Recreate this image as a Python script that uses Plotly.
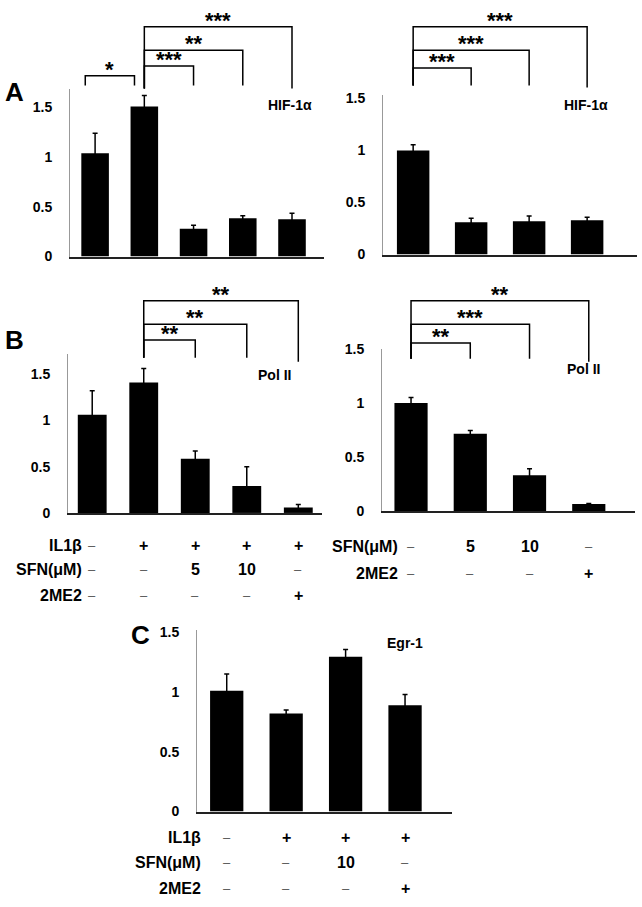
import plotly.graph_objects as go

W, H = 642, 907
FONT = "Liberation Sans, Arial, Helvetica, sans-serif"

# ---- data (relative expression) ----
HIF_IL1B = [1.04, 1.51, 0.28, 0.385, 0.375]
HIF_IL1B_ERR = [0.20, 0.11, 0.035, 0.025, 0.06]
HIF_BASAL = [1.0, 0.31, 0.32, 0.33]
HIF_BASAL_ERR = [0.055, 0.04, 0.05, 0.03]
POL_IL1B = [1.06, 1.41, 0.585, 0.29, 0.06]
POL_IL1B_ERR = [0.26, 0.15, 0.085, 0.21, 0.03]
POL_BASAL = [1.0, 0.715, 0.33, 0.064]
POL_BASAL_ERR = [0.05, 0.03, 0.06, 0.006]
EGR1 = [1.01, 0.82, 1.295, 0.89]
EGR1_ERR = [0.14, 0.03, 0.06, 0.09]

Y_TICKS = [0, 0.5, 1, 1.5]
Y_TICKTEXT = ["0", "0.5", "1", "1.5"]

# treatment rows under the bars
IL1B_ROW = ["–", "+", "+", "+", "+"]
SFN_ROW = ["–", "–", "5", "10", "–"]
ME2_ROW = ["–", "–", "–", "–", "+"]
SFN_ROW_BASAL = ["–", "5", "10", "–"]
ME2_ROW_BASAL = ["–", "–", "–", "+"]
IL1B_ROW_C = ["–", "+", "+", "+"]
SFN_ROW_C = ["–", "–", "10", "–"]
ME2_ROW_C = ["–", "–", "–", "+"]

# significance: (bar from, bar to, label)
SIG_A_LEFT = [(0, 1, "*"), (1, 2, "***"), (1, 3, "**"), (1, 4, "***")]
SIG_A_RIGHT = [(0, 1, "***"), (0, 2, "***"), (0, 3, "***")]
SIG_B_LEFT = [(1, 2, "**"), (1, 3, "**"), (1, 4, "**")]
SIG_B_RIGHT = [(0, 1, "**"), (0, 2, "***"), (0, 3, "**")]


def fx(p):
    return p / W


def fy(p):
    return 1 - p / H


# layout of each panel in page pixels; bracket geometry = (level, left end, right end, x shift)
PANELS = [
    dict(vals=HIF_IL1B, err=HIF_IL1B_ERR, xpx=(70, 324), ypx=(82, 253), ymax=1.69,
         xr=(-0.51, 4.65), gene="HIF-1α", gene_at=(290, 99), sig=SIG_A_LEFT,
         geo=[(69, 79, 79, -0.2), (59, 82, 79, 0), (43, 82, 79, 0), (19, 82, 82, 0)]),
    dict(vals=HIF_BASAL, err=HIF_BASAL_ERR, xpx=(383, 637), ypx=(89, 251), ymax=1.53,
         xr=(-0.52, 3.86), gene="HIF-1α", gene_at=(586, 99), sig=SIG_A_RIGHT,
         geo=[(61, 79, 79, 0), (43, 79, 79, 0), (19, 79, 81, 0)]),
    dict(vals=POL_IL1B, err=POL_IL1B_ERR, xpx=(68, 322), ypx=(352, 514), ymax=1.72,
         xr=(-0.47, 4.46), gene="Pol II", gene_at=(274, 374), sig=SIG_B_LEFT,
         geo=[(338, 356, 356, 0), (322, 356, 356, 0), (298, 356, 360, 0)]),
    dict(vals=POL_BASAL, err=POL_BASAL_ERR, xpx=(382, 635), ypx=(347, 512), ymax=1.5,
         xr=(-0.49, 3.78), gene="Pol II", gene_at=(583, 367), sig=SIG_B_RIGHT,
         geo=[(341, 357, 357, 0), (322, 357, 357, 0), (298, 357, 360, 0)]),
    dict(vals=EGR1, err=EGR1_ERR, xpx=(197, 452), ypx=(633, 818), ymax=1.52,
         xr=(-0.5, 3.79), gene="Egr-1", gene_at=(405, 646), sig=[], geo=[]),
]

# treatment tables: (panel index, label right edge px, [(label, row y px, row values)])
TABLES = [
    (2, 84, [("IL1β", 547, IL1B_ROW), ("SFN(μM)", 572, SFN_ROW), ("2ME2", 598, ME2_ROW)]),
    (3, 400, [("SFN(μM)", 548, SFN_ROW_BASAL), ("2ME2", 576, ME2_ROW_BASAL)]),
    (4, 203, [("IL1β", 844, IL1B_ROW_C), ("SFN(μM)", 870, SFN_ROW_C), ("2ME2", 896, ME2_ROW_C)]),
]

LETTERS = [("A", 14, 86), ("B", 14, 338), ("C", 140, 638)]

fig = go.Figure()
shapes, annos = [], []
layout = {}


def label(text, x, y, xref="paper", size=16, color="black", weight="bold", xanchor="center"):
    return dict(text=text, x=x, y=y, xref=xref, yref="paper", xanchor=xanchor,
                yanchor="middle", showarrow=False,
                font=dict(family=FONT, size=size, color=color, weight=weight))


for k, p in enumerate(PANELS):
    sfx = "" if k == 0 else str(k + 1)
    xa, ya = "x" + sfx, "y" + sfx
    n = len(p["vals"])
    fig.add_bar(x=list(range(n)), y=p["vals"], width=0.56, xaxis=xa, yaxis=ya,
                marker=dict(color="black", line_width=0),
                error_y=dict(type="data", array=p["err"], color="black",
                             thickness=1.5, width=2.5),
                showlegend=False, hoverinfo="y")
    layout["xaxis" + sfx] = dict(domain=[fx(p["xpx"][0]), fx(p["xpx"][1])], range=list(p["xr"]),
                                 anchor=ya, showline=True, linecolor="#222", linewidth=1.5,
                                 showticklabels=False, showgrid=False, zeroline=False, ticks="")
    layout["yaxis" + sfx] = dict(domain=[fy(p["ypx"][1]), fy(p["ypx"][0])], range=[0, p["ymax"]],
                                 anchor=xa, showline=True, linecolor="#999", linewidth=1,
                                 tickvals=Y_TICKS, ticktext=Y_TICKTEXT, ticks="",
                                 ticklabelstandoff=14, showgrid=False, zeroline=False,
                                 tickfont=dict(family=FONT, size=14, color="black", weight="bold"))
    annos.append(label(p["gene"], fx(p["gene_at"][0]), fy(p["gene_at"][1]), size=14))
    for (i, j, lab), (lvl, b0, b1, sh) in zip(p["sig"], p["geo"]):
        x0, x1 = i + sh, j + sh
        shapes.append(dict(type="path", xref=xa, yref="paper",
                           path=f"M {x0},{fy(b0)} L {x0},{fy(lvl)} L {x1},{fy(lvl)} L {x1},{fy(b1)}",
                           line=dict(color="black", width=1.5)))
        annos.append(dict(text=lab, x=(x0 + x1) / 2, y=fy(lvl), xref=xa, yref="paper",
                          xanchor="center", yanchor="bottom", yshift=-8, showarrow=False,
                          font=dict(family=FONT, size=22, color="black", weight="bold")))

for k, lab_right, rows in TABLES:
    sfx = "" if k == 0 else str(k + 1)
    for name, ry, row in rows:
        annos.append(label(name, fx(lab_right), fy(ry), xanchor="right"))
        for i, v in enumerate(row):
            if v == "–":
                annos.append(label(v, i, fy(ry), xref="x" + sfx, size=13, color="#555",
                                   weight="normal"))
            else:
                annos.append(label(v, i, fy(ry), xref="x" + sfx))

for letter, lx, ly in LETTERS:
    annos.append(label(letter, fx(lx), fy(ly), size=26))

fig.update_layout(**layout, width=W, height=H, margin=dict(l=0, r=0, t=0, b=0),
                  paper_bgcolor="white", plot_bgcolor="white",
                  shapes=shapes, annotations=annos, showlegend=False)

fig.write_html("out.html", config={"displayModeBar": False},
               post_script="document.body.style.margin='0';")
